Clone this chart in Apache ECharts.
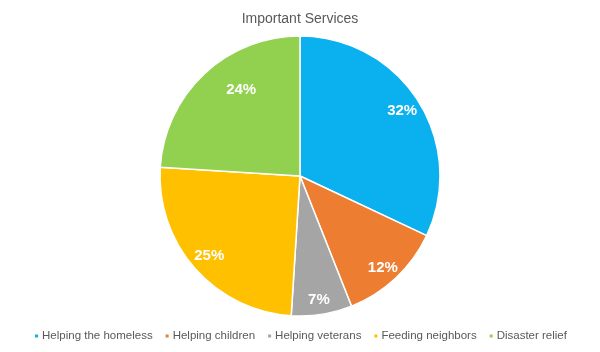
<!DOCTYPE html>
<html>
<head>
<meta charset="utf-8">
<script src="https://cdn.jsdelivr.net/npm/echarts@6/dist/echarts.min.js"></script>
<style>
  html, body { margin: 0; padding: 0; background: #fff; }
  #chart { width: 600px; height: 352px; }
</style>
</head>
<body>
<div id="chart"></div>
<script>
// data
var categories = ['Helping the homeless', 'Helping children', 'Helping veterans', 'Feeding neighbors', 'Disaster relief'];
var shares = [32, 12, 7, 25, 24];
var colors = ['#0bb0ee', '#ed7d31', '#a5a5a5', '#ffc000', '#92d050'];

var myChart = echarts.init(document.getElementById('chart'));

var pieData = categories.map(function (name, i) {
    return { name: name, value: shares[i] };
});

// label ring: same slices, nudging a couple of labels like the excel "best fit"
var labelData = pieData.map(function (d, i) {
    var item = { name: d.name, value: d.value };
    if (i === 4) item.label = { offset: [24, 2] };
    if (i === 1 || i === 2) item.label = { offset: [0, 4] };
    return item;
});

var option = {
    color: colors,
    title: {
        text: 'Important Services',
        left: 'center',
        top: 7,
        textStyle: {
            fontFamily: 'Liberation Sans, Arial, sans-serif',
            fontSize: 14,
            fontWeight: 'normal',
            color: '#595959'
        }
    },
    legend: {
        bottom: 5,
        left: 'center',
        itemWidth: 5,
        itemHeight: 5,
        itemGap: 11,
        icon: 'rect',
        data: categories,
        textStyle: {
            fontFamily: 'Liberation Sans, Arial, sans-serif',
            fontSize: 11.5,
            color: '#595959',
            padding: [0, 0, 0, -2]
        }
    },
    series: [
        {
            type: 'pie',
            center: [300, 176],
            radius: [0, 140],
            startAngle: 90,
            clockwise: true,
            silent: true,
            label: { show: false },
            labelLine: { show: false },
            itemStyle: { borderColor: '#fff', borderWidth: 1.5 },
            data: pieData
        },
        {
            // transparent ring, only used to place the percent labels
            type: 'pie',
            center: [300, 176],
            radius: [96, 140],
            startAngle: 90,
            clockwise: true,
            silent: true,
            itemStyle: { color: 'rgba(0,0,0,0)', borderWidth: 0 },
            label: {
                show: true,
                position: 'inside',
                formatter: '{c}%',
                color: '#fff',
                fontFamily: 'Liberation Sans, Arial, sans-serif',
                fontSize: 15,
                fontWeight: 'bold'
            },
            labelLine: { show: false },
            data: labelData
        }
    ]
};
myChart.setOption(option);
</script>
</body>
</html>
